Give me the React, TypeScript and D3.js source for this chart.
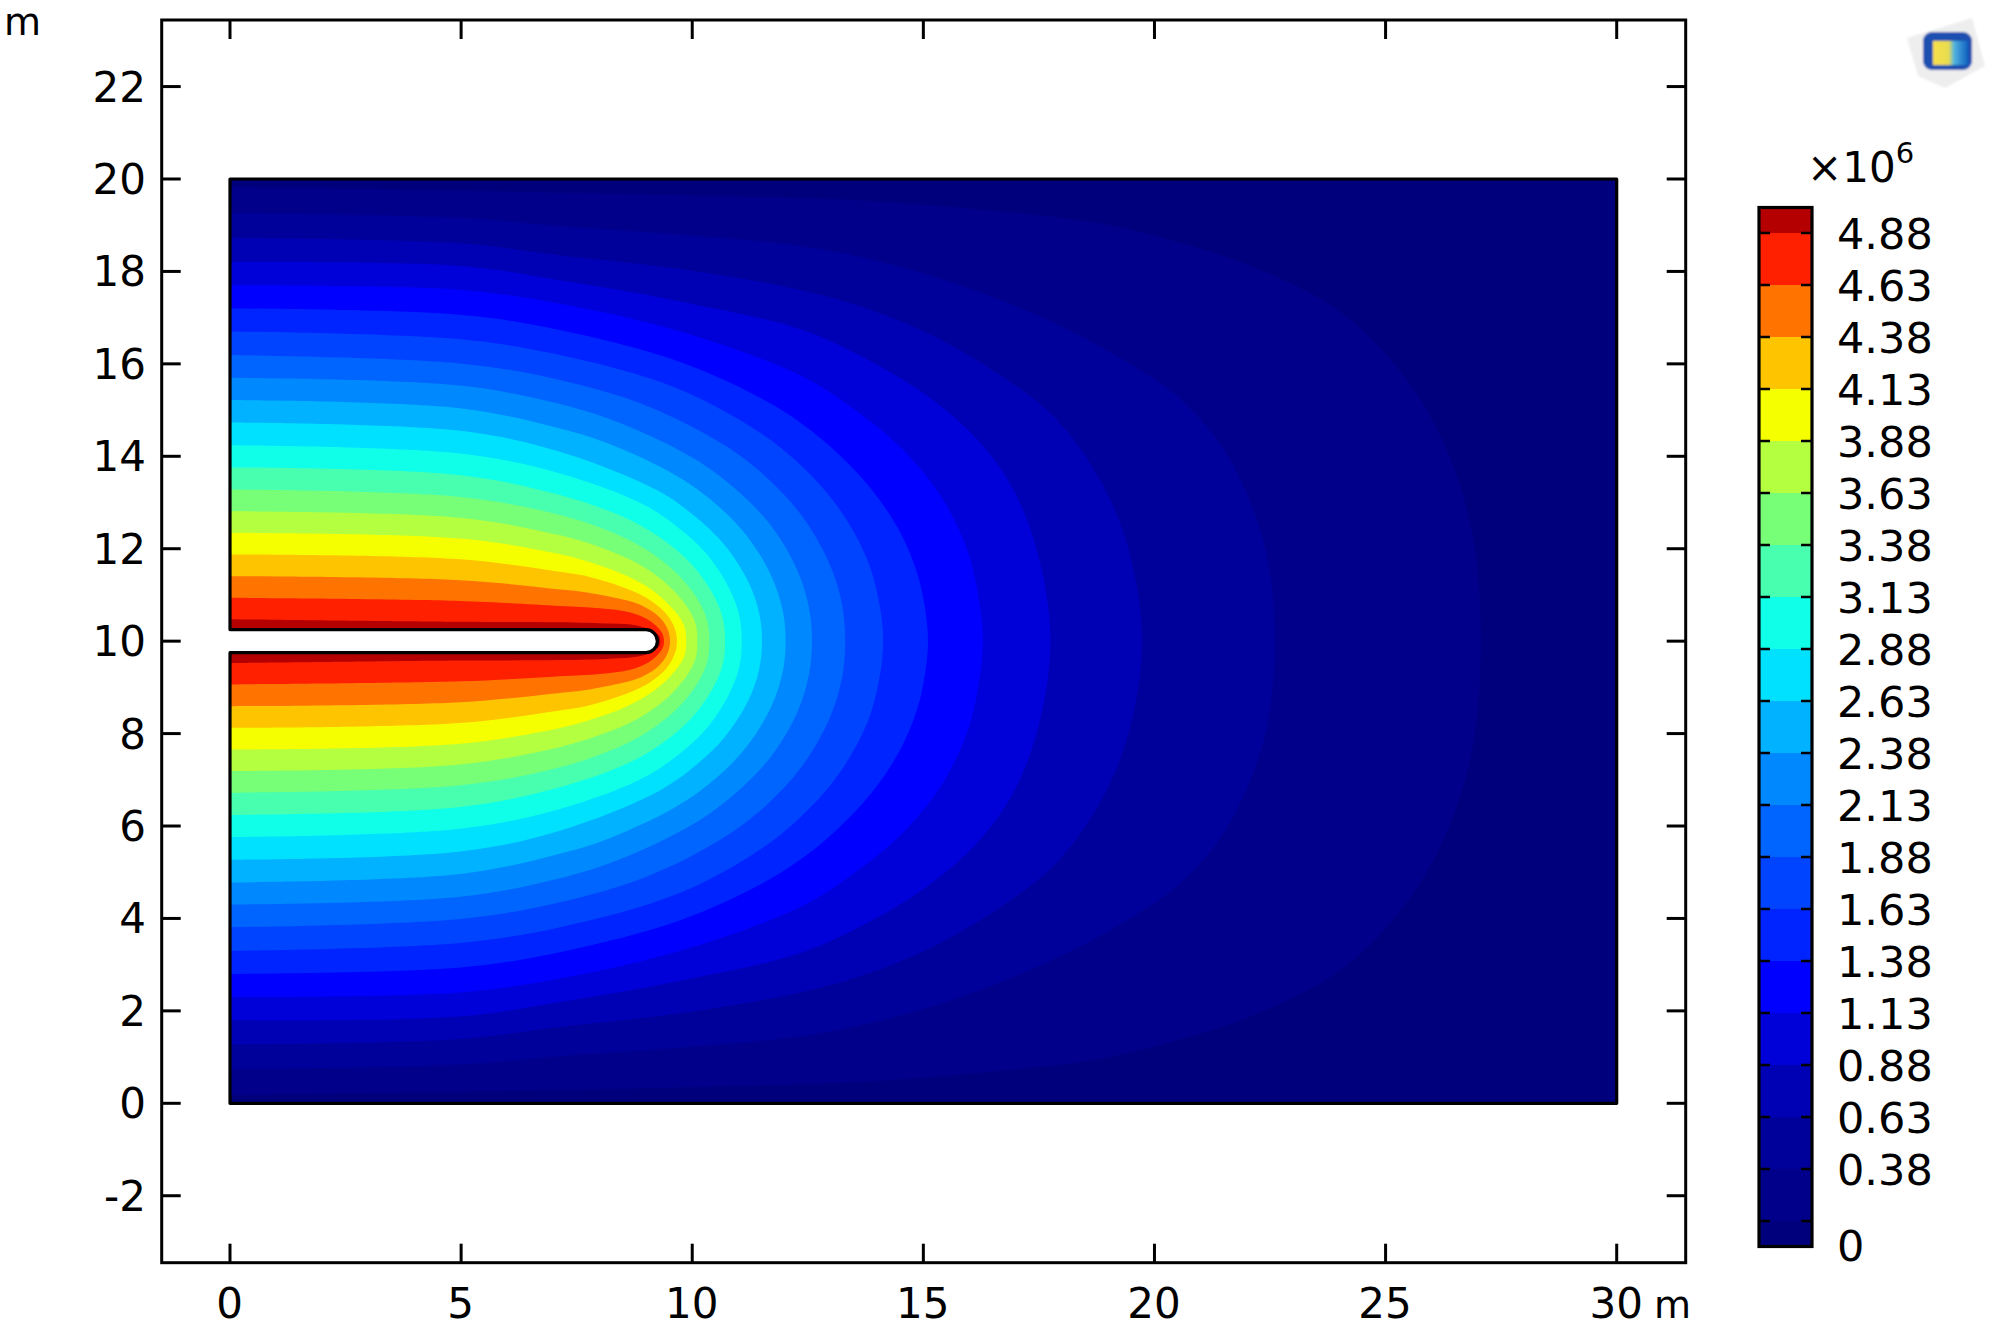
import React from "react";
import * as d3 from "d3";

// contour levels (in units of 1e6), lowest to highest
const levels = [0.13, 0.38, 0.63, 0.88, 1.13, 1.38, 1.63, 1.88, 2.13, 2.38, 2.63, 2.88, 3.13, 3.38, 3.63, 3.88, 4.13, 4.38, 4.63, 4.88];
const bandColors = ["#00007c", "#00008a", "#00009a", "#0000b4", "#0000d8", "#0000ff", "#0024ff", "#0044ff", "#0064ff", "#0088ff", "#00b2ff", "#00e0ff", "#10ffe8", "#48ffb0", "#78ff78", "#b4ff40", "#f6ff00", "#ffc400", "#ff7400", "#ff2000", "#b40000"];
const barLabels = ["4.88", "4.63", "4.38", "4.13", "3.88", "3.63", "3.38", "3.13", "2.88", "2.63", "2.38", "2.13", "1.88", "1.63", "1.38", "1.13", "0.88", "0.63", "0.38"];
const xTicks = [0, 5, 10, 15, 20, 25, 30];
const yTicks = [-2, 0, 2, 4, 6, 8, 10, 12, 14, 16, 18, 20, 22];

// contour outlines: [x metres, height above y = 10]
const c013 = [[0, 9.83], [5, 9.75], [10, 9.65], [13.4, 9.55], [16.67, 9.3], [18.83, 9.04], [20.63, 8.6], [22.3, 8.03], [24.07, 7.09], [25.5, 5.6], [26.4, 3.95], [26.9, 2.2], [27.06, 0]];
const c038 = [[0, 9.26], [4.98, 9.16], [7.14, 8.98], [9.74, 8.8], [12.34, 8.55], [13.78, 8.28], [15.23, 7.89], [16.67, 7.38], [18.11, 6.75], [19.55, 5.95], [20.49, 5.3], [21.36, 4.35], [21.93, 3.34], [22.35, 2.2], [22.55, 1.1], [22.6, 0]];
const c063 = [[0, 8.73], [4.98, 8.61], [7.14, 8.35], [9.74, 8.05], [12.34, 7.6], [13.78, 7.2], [15.23, 6.6], [16.67, 5.75], [17.75, 4.93], [18.61, 3.85], [19.26, 2.55], [19.62, 1.18], [19.73, 0]];
const c088 = [[0, 8.2], [4.98, 8.12], [7.14, 7.81], [9.74, 7.35], [12.34, 6.75], [13.78, 6.1], [15.23, 5.2], [16.31, 4.2], [17.03, 3.12], [17.53, 1.68], [17.75, 0]];
const c113 = [[0, 7.7], [4.98, 7.6], [7.14, 7.3], [9.74, 6.7], [12.34, 5.75], [13.42, 5.08], [14.5, 4.2], [15.37, 3.15], [15.95, 1.97], [16.2, 0.9], [16.29, 0]];
const c138 = [[0, 7.2], [4.98, 7.06], [7.14, 6.73], [9.74, 6.04], [11.5, 5.25], [12.38, 4.7], [13.14, 4.07], [13.89, 3.27], [14.5, 2.35], [14.87, 1.46], [15.03, 0.75], [15.1, 0]];
const c163 = [[0, 6.7], [4.98, 6.53], [7.14, 6.19], [9.6, 5.5], [11.3, 4.62], [12.29, 3.86], [13.14, 2.92], [13.78, 1.78], [14.05, 0.8], [14.13, 0]];
const c188 = [[0, 6.19], [4.98, 6.01], [7.14, 5.65], [9.05, 5.08], [10.65, 4.27], [11.58, 3.57], [12.38, 2.7], [12.98, 1.65], [13.24, 0.8], [13.31, 0]];
const c213 = [[0, 5.7], [4.98, 5.53], [7.14, 5.13], [8.56, 4.67], [10.07, 3.93], [10.95, 3.28], [11.71, 2.49], [12.28, 1.52], [12.53, 0.7], [12.59, 0]];
const c238 = [[0, 5.22], [4.98, 5.04], [7.14, 4.6], [8.17, 4.28], [9.62, 3.6], [10.46, 3.01], [11.18, 2.28], [11.72, 1.39], [11.96, 0.65], [12.02, 0]];
const c263 = [[0, 4.73], [4.98, 4.55], [7.14, 4.1], [9.21, 3.28], [10.01, 2.74], [10.7, 2.08], [11.22, 1.27], [11.45, 0.6], [11.51, 0]];
const c288 = [[0, 4.24], [4.98, 4.06], [7.14, 3.63], [8.86, 3.0], [9.63, 2.51], [10.3, 1.9], [10.79, 1.16], [11.02, 0.55], [11.07, 0]];
const c313 = [[0, 3.76], [4.98, 3.59], [7.14, 3.16], [8.57, 2.66], [9.32, 2.23], [9.96, 1.69], [10.44, 1.03], [10.66, 0.5], [10.71, 0]];
const c338 = [[0, 3.28], [4.98, 3.12], [7.14, 2.73], [8.3, 2.34], [9.02, 1.97], [9.64, 1.49], [10.11, 0.915], [10.32, 0.45], [10.37, 0]];
const c363 = [[0, 2.81], [4.98, 2.67], [7.14, 2.29], [8.09, 2.0], [8.8, 1.69], [9.4, 1.28], [9.86, 0.78], [10.07, 0.38], [10.11, 0]];
const c388 = [[0, 2.345], [4.98, 2.22], [7.14, 1.88], [7.9, 1.67], [8.59, 1.41], [9.18, 1.07], [9.62, 0.65], [9.83, 0.32], [9.87, 0]];
const c413 = [[0, 1.876], [4.98, 1.77], [7.14, 1.5], [7.74, 1.4], [8.41, 1.2], [8.99, 0.95], [9.43, 0.6], [9.62, 0.28], [9.67, 0]];
const c438 = [[0, 1.407], [4.98, 1.32], [7.14, 1.12], [7.62, 1.07], [8.28, 0.95], [8.85, 0.8], [9.28, 0.53], [9.46, 0.28], [9.52, 0]];
const c463 = [[0, 0.937], [4.98, 0.87], [7.14, 0.76], [8.0, 0.71], [8.66, 0.62], [9.05, 0.46], [9.24, 0.31], [9.36, 0.15], [9.39, 0]];
const c488 = [[0, 0.476], [4.98, 0.42], [7.14, 0.41], [8.23, 0.38], [8.8, 0.34], [9.1, 0.24], [9.28, 0.12], [9.31, 0]];
const contours = [c013, c038, c063, c088, c113, c138, c163, c188, c213, c238, c263, c288, c313, c338, c363, c388, c413, c438, c463, c488];

const slotTop = 10.25;
const slotBottom = 9.75;
const slotTip = 9.25;

const font = "'DejaVu Sans', sans-serif";
const x = d3.scaleLinear().domain([0, 30]).range([230, 1616.7]);
const y = d3.scaleLinear().domain([0, 20]).range([1103.3, 179]);
const barY = d3.scaleLinear().domain([0.13, 4.88]).range([1221, 233]);

const frame = { l: 161.7, r: 1685.7, t: 20, b: 1262.7 };
const bar = { l: 1759, r: 1812, t: 207.5, b: 1246.5 };

const contourLine = d3.line<number[]>().x((d) => x(d[0])).y((d) => y(d[1])).curve(d3.curveCatmullRom.alpha(0.5));

function contourPath(pts: number[][]) {
  const upper = pts.map((p) => [p[0], 10 + p[1]]);
  const lower = pts.slice(0, -1).reverse().map((p) => [p[0], 10 - p[1]]);
  return contourLine([...upper, ...lower]) + "Z";
}

const radius = Math.abs(x(slotTop - slotBottom) - x(0)) / 2;
const geometry =
  `M${x(0)},${y(20)}L${x(30)},${y(20)}L${x(30)},${y(0)}L${x(0)},${y(0)}L${x(0)},${y(slotBottom)}` +
  `L${x(slotTip) - radius},${y(slotBottom)}A${radius},${radius} 0 0 0 ${x(slotTip) - radius},${y(slotTop)}` +
  `L${x(0)},${y(slotTop)}Z`;

export default function App() {
  const barEdges = [bar.b, ...levels.map((l) => barY(l)), bar.t];
  return (
    <svg width={2000} height={1333} viewBox="0 0 2000 1333" style={{ position: "absolute", left: 0, top: 0, display: "block", background: "#fff" }} fontFamily={font} fill="#000">
      <defs>
        <clipPath id="geo"><path d={geometry} /></clipPath>
        <linearGradient id="logoGrad" x1="0" x2="1" y1="0" y2="0">
          <stop offset="0" stopColor="#f7e04a" />
          <stop offset="0.45" stopColor="#e8dc50" />
          <stop offset="0.6" stopColor="#52b4e0" />
          <stop offset="1" stopColor="#1060c0" />
        </linearGradient>
        <filter id="soft"><feGaussianBlur stdDeviation="1.2" /></filter>
      </defs>

      <g clipPath="url(#geo)">
        <rect x={x(0)} y={y(20)} width={x(30) - x(0)} height={y(0) - y(20)} fill={bandColors[0]} />
        {contours.map((c, i) => (
          <path key={i} d={contourPath(c)} fill={bandColors[i + 1]} />
        ))}
      </g>
      <path d={geometry} fill="none" stroke="#000" strokeWidth={3.2} strokeLinejoin="round" />

      <rect x={frame.l} y={frame.t} width={frame.r - frame.l} height={frame.b - frame.t} fill="none" stroke="#000" strokeWidth={3} />
      {xTicks.map((t) => (
        <g key={t}>
          <line x1={x(t)} x2={x(t)} y1={frame.t} y2={frame.t + 19} stroke="#000" strokeWidth={3} />
          <line x1={x(t)} x2={x(t)} y1={frame.b} y2={frame.b - 19} stroke="#000" strokeWidth={3} />
          <text x={x(t) - 0.5} y={1318} fontSize={42} textAnchor="middle">{t}</text>
        </g>
      ))}
      {yTicks.map((t) => (
        <g key={t}>
          <line x1={frame.l} x2={frame.l + 19} y1={y(t)} y2={y(t)} stroke="#000" strokeWidth={3} />
          <line x1={frame.r} x2={frame.r - 19} y1={y(t)} y2={y(t)} stroke="#000" strokeWidth={3} />
          <text x={146} y={y(t) + 15} fontSize={42} textAnchor="end">{t}</text>
        </g>
      ))}
      <text x={4} y={35} fontSize={38}>m</text>
      <text x={1654} y={1318} fontSize={38}>m</text>

      {bandColors.map((c, i) => (
        <rect key={i} x={bar.l} width={bar.r - bar.l} y={barEdges[i + 1]} height={barEdges[i] - barEdges[i + 1]} fill={c} />
      ))}
      <rect x={bar.l} y={bar.t} width={bar.r - bar.l} height={bar.b - bar.t} fill="none" stroke="#000" strokeWidth={3.2} />
      {levels.map((l) => (
        <g key={l}>
          <line x1={bar.l} x2={bar.l + 11} y1={barY(l)} y2={barY(l)} stroke="#000" strokeWidth={2.5} />
          <line x1={bar.r} x2={bar.r - 11} y1={barY(l)} y2={barY(l)} stroke="#000" strokeWidth={2.5} />
        </g>
      ))}
      {barLabels.map((s) => (
        <text key={s} x={1837} y={barY(+s) + 16} fontSize={43}>{s}</text>
      ))}
      <text x={1837} y={1261} fontSize={43}>0</text>
      <text x={1807} y={181.5} fontSize={42}>×10<tspan fontSize={29} dy={-18.5}>6</tspan></text>

      <g filter="url(#soft)">
        <polygon points="1907,38 1972,18 1985,66 1945,88 1918,76" fill="#eeeeee" />
        <rect x={1923} y={32} width={49} height={38} rx={9} fill="#1a4fb0" />
        <rect x={1933} y={41} width={35} height={24} fill="url(#logoGrad)" />
      </g>
    </svg>
  );
}
